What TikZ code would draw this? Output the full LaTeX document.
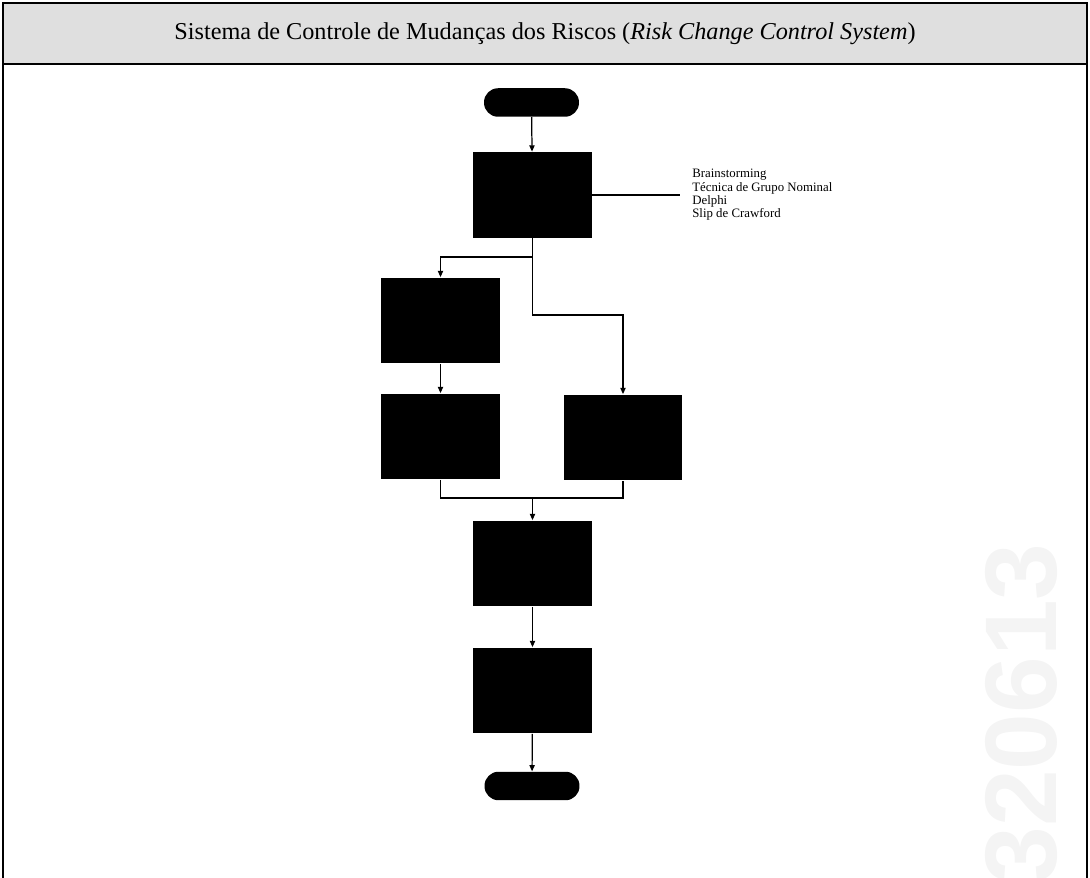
\documentclass[tikz,border=0pt]{standalone}
\usepackage{fontspec}
\setmainfont{Liberation Serif}
\newfontfamily\marcafont{Liberation Sans}
\usetikzlibrary{arrows.meta}

\begin{document}
\begin{tikzpicture}[x=0.02cm,y=-0.02cm,
  caixa/.style={fill=black,minimum width=2.38cm,minimum height=1.72cm,inner sep=0pt},
  term/.style={fill=black,rounded corners=0.28cm,minimum width=1.9cm,minimum height=0.57cm,inner sep=0pt},
  seta/.style={line width=0.7pt,-{Triangle[length=3.6pt,width=3pt]}},
  linha/.style={line width=0.7pt}]
  \useasboundingbox (0,0) rectangle (1090,878);
  \node[rotate=90,anchor=base east,inner sep=0pt,text=gray!9,
    font=\marcafont\bfseries\fontsize{58}{58}\selectfont] (marca) at (1056,543) {0320613};
  \fill[gray!25] (3,3) rectangle (1087,64);
  \draw[line width=1.2pt] (3,878) -- (3,3) -- (1087,3) -- (1087,878);
  \draw[line width=1.2pt] (3,64) -- (1087,64);
  \node[font=\fontsize{13.8}{16}\selectfont] (titulo) at (545,34)
    {Sistema de Controle de Mudanças dos Riscos (\textit{Risk Change Control System})};
  \node[term] (inicio) at (531.5,102.5) {};
  \node[caixa] (c1) at (532.5,195) {};
  \node[caixa] (c2) at (440.5,320.5) {};
  \node[caixa] (c3) at (440.5,436.5) {};
  \node[caixa] (c4) at (623,437.5) {};
  \node[caixa] (c5) at (532.5,563.5) {};
  \node[caixa] (c6) at (532.5,690.5) {};
  \node[term] (fim) at (532,786) {};
  \node[anchor=west,inner sep=0pt,inner xsep=0.24cm,align=left,
    font=\fontsize{7.3}{7.6}\selectfont] (lista) at (680,195)
    {Brainstorming\\Técnica de Grupo Nominal\\Delphi\\Slip de Crawford};
  \coordinate (r1) at (532.5,257);
  \coordinate (r2) at (532.5,315);
  \coordinate (j) at (532.5,498);
  \draw[seta] (inicio) -- (c1);
  \draw[linha] (c1.east) -- (c1.east -| lista.west);
  \draw[seta] (c1.south) -- (r1) -| (c2.north);
  \draw[seta] (r1) -- (r2) -| (c4.north);
  \draw[seta] (c2) -- (c3);
  \draw[linha] (c3.south) |- (j) -| (c4.south);
  \draw[seta] (j) -- (c5.north);
  \draw[seta] (c5) -- (c6);
  \draw[seta] (c6) -- (fim);
\end{tikzpicture}
\end{document}
